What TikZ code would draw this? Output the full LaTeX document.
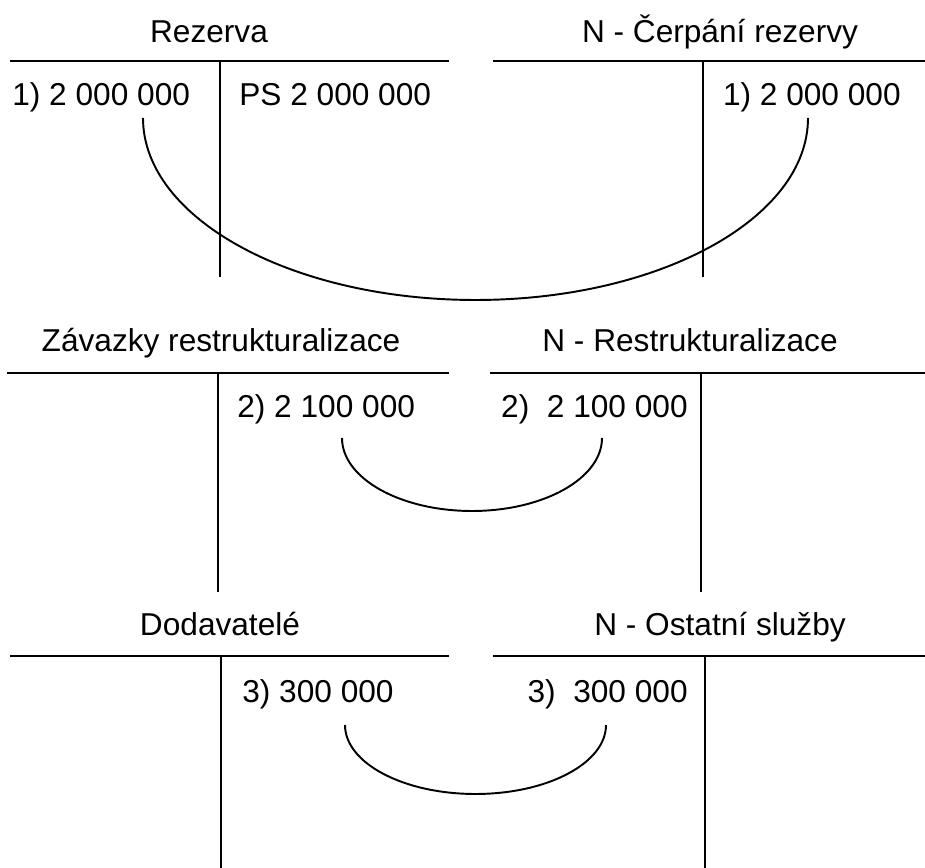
\documentclass[tikz,border=0pt]{standalone}
\usepackage{fontspec}
\setmainfont{Liberation Sans}
\usetikzlibrary{positioning}

\tikzset{
  hline/.style={line width=1.5pt},
  vline/.style={line width=0.95pt},
  link/.style={line width=1.1pt},
  entry/.style={inner sep=0pt, font=\fontsize{18}{21.6}\selectfont},
}

\begin{document}
\begin{tikzpicture}
    \useasboundingbox (0,0) rectangle (18.5,17.36);
    % Rezerva / N - Cerpani rezervy
    \draw [hline] (0.2,16.14) -- (8.98,16.14);
    \draw [hline] (9.86,16.14) -- (18.5,16.14);
    \draw [vline] (4.4,16.14) -- (4.4,11.82);
    \draw [vline] (14.06,16.14) -- (14.06,11.82);
    \node [entry, anchor=base] (rezerva) at (4.18,16.5) {Rezerva};
    \node [entry, anchor=base] (cerpani) at (14.4,16.5) {N - Čerpání rezervy};
    \node [entry, anchor=base west] (rezMd) at (0.24,15.24) {1) 2 000 000};
    \node [entry, anchor=base west] (rezPS) at (4.78,15.24) {PS 2 000 000};
    \node [entry, anchor=base east] (cerD) at (18.02,15.24) {1) 2 000 000};
    \coordinate (link1) at (2.86,15.0);
    \draw [link] (link1) arc [start angle=180, end angle=360, x radius=6.65, y radius=3.64];

    % Zavazky restrukturalizace / N - Restrukturalizace
    \draw [hline] (0.14,9.9) -- (8.98,9.9);
    \draw [hline] (9.8,9.9) -- (18.5,9.9);
    \draw [vline] (4.36,9.9) -- (4.36,5.52);
    \draw [vline] (14.02,9.9) -- (14.02,5.52);
    \node [entry, anchor=base] (zavazky) at (4.42,10.32) {Závazky restrukturalizace};
    \node [entry, anchor=base] (restr) at (13.8,10.32) {N - Restrukturalizace};
    \node [entry, anchor=base west] (zavD) at (4.74,9.0) {2) 2 100 000};
    \node [entry, anchor=base east] (restrMd) at (13.76,9.0) {2)\ \ 2 100 000};
    \coordinate (link2) at (6.84,8.6);
    \draw [link] (link2) arc [start angle=180, end angle=360, x radius=2.6, y radius=1.46];

    % Dodavatele / N - Ostatni sluzby
    \draw [hline] (0.2,4.24) -- (8.98,4.24);
    \draw [hline] (9.86,4.24) -- (18.5,4.24);
    \draw [vline] (4.42,4.24) -- (4.42,0);
    \draw [vline] (14.1,4.24) -- (14.1,0);
    \node [entry, anchor=base] (dodav) at (4.4,4.64) {Dodavatelé};
    \node [entry, anchor=base] (sluzby) at (14.4,4.64) {N - Ostatní služby};
    \node [entry, anchor=base west] (dodD) at (4.84,3.3) {3) 300 000};
    \node [entry, anchor=base east] (sluzMd) at (13.76,3.3) {3)\ \ 300 000};
    \coordinate (link3) at (6.9,2.86);
    \draw [link] (link3) arc [start angle=180, end angle=360, x radius=2.61, y radius=1.38];
\end{tikzpicture}
\end{document}
